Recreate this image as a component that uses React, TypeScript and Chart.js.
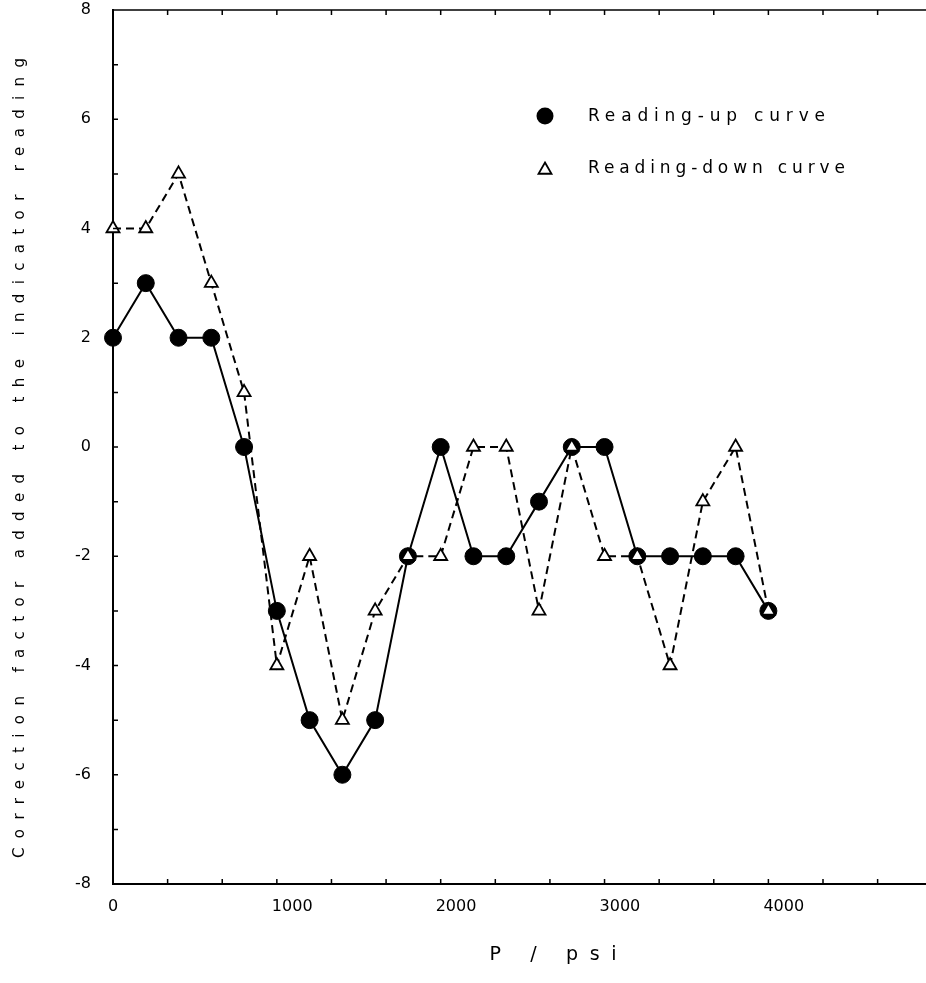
import { useEffect, useRef } from 'react';
import { Chart, registerables } from 'chart.js';

Chart.register(...registerables);

// ---- Data ----
const pressures = [0, 200, 400, 600, 800, 1000, 1200, 1400, 1600, 1800, 2000, 2200, 2400, 2600, 2800, 3000, 3200, 3400, 3600, 3800, 4000];
const readingUp = [2, 3, 2, 2, 0, -3, -5, -6, -5, -2, 0, -2, -2, -1, 0, 0, -2, -2, -2, -2, -3];
const readingDown = [4, 4, 5, 3, 1, -4, -2, -5, -3, -2, -2, 0, 0, -3, 0, -2, -2, -4, -1, 0, -3];
const seriesNames = ['Reading-up curve', 'Reading-down curve'];
const xLabelValues = [0, 1000, 2000, 3000, 4000];
const xMinorTicksPerLabel = 3;
const yLabelValues = [-8, -6, -4, -2, 0, 2, 4, 6, 8];
const xTitle = 'P / psi';
const yTitle = 'Correction factor added to the indicator reading';

const FONT = '"DejaVu Sans", "Liberation Sans", Arial, sans-serif';

function drawFitted(ctx: any, text: string, x: number, y: number, width: number, font: string, align: 'left' | 'center') {
  ctx.font = font;
  ctx.letterSpacing = '0px';
  const w0 = ctx.measureText(text).width;
  const s = Math.max(0, (width - w0) / Math.max(1, text.length - 1));
  ctx.letterSpacing = s + 'px';
  ctx.textAlign = 'left';
  ctx.textBaseline = 'middle';
  const startX = align === 'center' ? x - width / 2 : x;
  ctx.fillText(text, startX, y);
  ctx.letterSpacing = '0px';
}

const framePlugin = {
  id: 'frameDecor',
  beforeDraw(chart: any) {
    chart.ctx.letterSpacing = '0px';
  },
  afterDraw(chart: any) {
    const { ctx, chartArea: a, scales } = chart;
    ctx.save();
    ctx.strokeStyle = '#000';
    ctx.fillStyle = '#000';
    ctx.lineWidth = 1.5;
    // top frame line
    ctx.beginPath();
    ctx.moveTo(a.left, a.top);
    ctx.lineTo(a.right, a.top);
    ctx.stroke();
    // inward tick marks
    const xs = scales.x;
    const ys = scales.y;
    ctx.beginPath();
    for (const t of xs.ticks) {
      const px = xs.getPixelForValue(t.value);
      if (px <= a.left + 1 || px >= a.right - 1) continue;
      ctx.moveTo(px, a.bottom);
      ctx.lineTo(px, a.bottom - 5);
      ctx.moveTo(px, a.top);
      ctx.lineTo(px, a.top + 5);
    }
    for (const t of ys.ticks) {
      const py = ys.getPixelForValue(t.value);
      if (py <= a.top + 1 || py >= a.bottom - 1) continue;
      ctx.moveTo(a.left, py);
      ctx.lineTo(a.left + 5, py);
    }
    ctx.stroke();

    // legend
    const lx = 545;
    const ly1 = 116;
    const ly2 = 168;
    ctx.beginPath();
    ctx.arc(lx, ly1, 8.5, 0, Math.PI * 2);
    ctx.fill();
    const r = 7.5;
    ctx.beginPath();
    for (let i = 0; i < 3; i++) {
      const ang = (i * 2 * Math.PI) / 3;
      const px = lx + Math.sin(ang) * r;
      const py = ly2 + 2 - Math.cos(ang) * r;
      if (i === 0) ctx.moveTo(px, py);
      else ctx.lineTo(px, py);
    }
    ctx.closePath();
    ctx.fillStyle = '#fff';
    ctx.fill();
    ctx.lineWidth = 1.8;
    ctx.stroke();
    ctx.fillStyle = '#000';
    drawFitted(ctx, seriesNames[0], 588, ly1 + 1, 237, `17px ${FONT}`, 'left');
    drawFitted(ctx, seriesNames[1], 588, ly2 + 1, 257, `17px ${FONT}`, 'left');

    // axis titles
    drawFitted(ctx, xTitle, 553, 955, 127, `19px ${FONT}`, 'center');
    ctx.save();
    ctx.translate(20, 458);
    ctx.rotate(-Math.PI / 2);
    drawFitted(ctx, yTitle, 0, 0, 800, `15px ${FONT}`, 'center');
    ctx.restore();

    ctx.restore();
  },
};

export default function App() {
  const canvasRef = useRef<HTMLCanvasElement | null>(null);

  useEffect(() => {
    document.body.style.margin = '0';
    const canvas = canvasRef.current;
    if (!canvas) return;
    const xStep = (xLabelValues[1] - xLabelValues[0]) / xMinorTicksPerLabel;
    const xMax = 4965;
    const xTickValues: number[] = [];
    for (let v = 0; v < xMax - 1; v += xStep) xTickValues.push(v);

    const chart = new Chart(canvas, {
      type: 'line',
      data: {
        datasets: [
          {
            label: seriesNames[1],
            data: pressures.map((p, i) => ({ x: p, y: readingDown[i] })),
            borderColor: '#000',
            borderWidth: 2,
            borderDash: [8, 5],
            pointStyle: 'triangle',
            pointRadius: 7.5,
            pointBackgroundColor: '#fff',
            pointBorderColor: '#000',
            pointBorderWidth: 1.8,
            tension: 0,
            clip: false as any,
            order: 0,
          },
          {
            label: seriesNames[0],
            data: pressures.map((p, i) => ({ x: p, y: readingUp[i] })),
            borderColor: '#000',
            borderWidth: 2,
            pointStyle: 'circle',
            pointRadius: 8.5,
            pointBackgroundColor: '#000',
            pointBorderColor: '#000',
            pointBorderWidth: 1,
            tension: 0,
            clip: false as any,
            order: 1,
          },
        ],
      },
      options: {
        responsive: false,
        animation: false,
        devicePixelRatio: 1,
        layout: { padding: { top: 10, left: 0, right: 0, bottom: 0 } },
        plugins: {
          legend: { display: false },
          tooltip: { enabled: false },
          title: { display: false },
        },
        scales: {
          x: {
            type: 'linear',
            min: 0,
            max: xMax,
            grid: { display: false },
            border: { display: true, color: '#000', width: 2 },
            afterBuildTicks: (scale: any) => {
              scale.ticks = xTickValues.map((v) => ({ value: v }));
            },
            afterFit: (scale: any) => {
              scale.height = 99;
              scale.paddingLeft = 0;
              scale.paddingRight = 0;
            },
            ticks: {
              autoSkip: false,
              maxRotation: 0,
              minRotation: 0,
              align: 'start',
              labelOffset: -5,
              padding: 5,
              color: '#000',
              font: { family: FONT, size: 16 },
              callback: (v: any) => {
                const n = Number(v);
                return xLabelValues.some((l) => Math.abs(l - n) < 1e-6) ? String(Math.round(n)) : '';
              },
            },
          },
          y: {
            type: 'linear',
            min: -8,
            max: 8,
            grid: { display: false },
            border: { display: true, color: '#000', width: 2 },
            afterFit: (scale: any) => {
              scale.width = 113;
              scale.paddingTop = 0;
              scale.paddingBottom = 0;
            },
            ticks: {
              stepSize: 1,
              autoSkip: false,
              padding: 14,
              color: '#000',
              font: { family: FONT, size: 16 },
              callback: (v: any) => {
                const n = Number(v);
                return yLabelValues.includes(n) ? String(n) : '';
              },
            },
          },
        },
      },
      plugins: [framePlugin],
    } as any);

    return () => {
      chart.destroy();
    };
  }, []);

  return (
    <div style={{ position: 'absolute', left: 0, top: 0, width: 926, height: 983, background: '#fff', overflow: 'hidden' }}>
      <canvas ref={canvasRef} width={936} height={983} style={{ display: 'block' }} />
    </div>
  );
}
